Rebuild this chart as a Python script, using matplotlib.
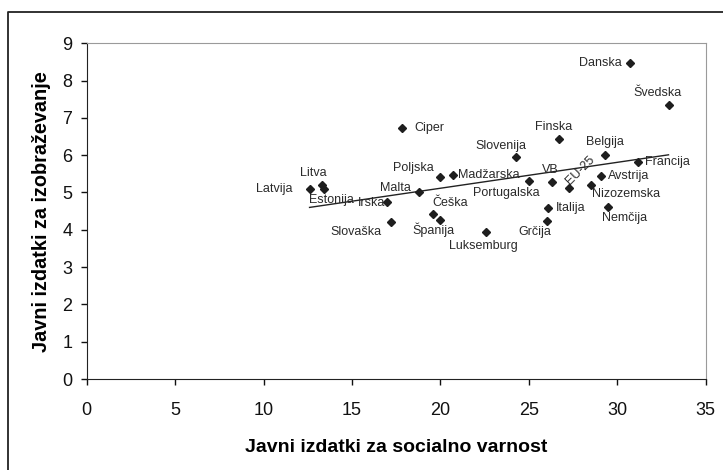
import matplotlib.pyplot as plt
from matplotlib.lines import Line2D

plt.rcParams['font.family'] = ['Liberation Sans', 'DejaVu Sans']

## Data
countries = ['Danska', 'Švedska', 'Ciper', 'Finska', 'Slovenija', 'Belgija',
             'Francija', 'Avstrija', 'Nizozemska', 'EU-25', 'VB', 'Portugalska',
             'Madžarska', 'Poljska', 'Malta', 'Litva', 'Estonija', 'Latvija',
             'Irska', 'Češka', 'Španija', 'Slovaška', 'Luksemburg', 'Italija',
             'Grčija', 'Nemčija']
social = [30.7, 32.9, 17.8, 26.7, 24.3, 29.3,
          31.2, 29.1, 28.5, 27.3, 26.3, 25.0,
          20.7, 20.0, 18.8, 13.3, 13.4, 12.6,
          17.0, 19.6, 20.0, 17.2, 22.6, 26.1,
          26.0, 29.5]
education = [8.46, 7.34, 6.72, 6.44, 5.96, 6.00,
             5.81, 5.45, 5.21, 5.13, 5.29, 5.31,
             5.46, 5.41, 5.00, 5.20, 5.10, 5.10,
             4.75, 4.42, 4.26, 4.20, 3.95, 4.58,
             4.24, 4.60]
trend_x = [12.6, 32.9]
trend_y = [4.60, 6.01]

# label placement: (dx px, dy px, ha, rotation)
label_pos = {
    'Danska': (-8, 0, 'right', 0), 'Švedska': (-11, 12, 'center', 0),
    'Ciper': (13, 0, 'left', 0), 'Finska': (-5, 12, 'center', 0),
    'Slovenija': (-16, 11, 'center', 0), 'Belgija': (0, 13, 'center', 0),
    'Francija': (7, 0, 'left', 0), 'Avstrija': (7, 0, 'left', 0),
    'Nizozemska': (1, -9, 'left', 0), 'EU-25': (11, 17, 'center', 45),
    'VB': (-1, 12, 'center', 0), 'Portugalska': (-23, -12, 'center', 0),
    'Madžarska': (5, 0, 'left', 0), 'Poljska': (-7, 9, 'right', 0),
    'Malta': (-8, 4, 'right', 0), 'Litva': (-9, 12, 'center', 0),
    'Estonija': (8, -11, 'center', 0), 'Latvija': (-17, 0, 'right', 0),
    'Irska': (-2, -1, 'right', 0), 'Češka': (17, 11, 'center', 0),
    'Španija': (-7, -10, 'center', 0), 'Slovaška': (-9, -10, 'right', 0),
    'Luksemburg': (-3, -14, 'center', 0), 'Italija': (8, 0, 'left', 0),
    'Grčija': (-12, -11, 'center', 0), 'Nemčija': (16, -11, 'center', 0),
}

fig = plt.figure(figsize=(7.23, 4.70), dpi=100)
ax = fig.add_axes([0.12, 0.1936, 0.856, 0.7143])

ax.plot(trend_x, trend_y, color='#222222', lw=1.0, zorder=2)
ax.plot(social, education, 'D', color='#1e1e1e', markersize=4.3, zorder=3)

for name, x, y in zip(countries, social, education):
    dx, dy, ha, rot = label_pos[name]
    ax.annotate(name, (x, y), xytext=(dx * 0.72, dy * 0.72),
                textcoords='offset points', ha=ha, va='center',
                fontsize=9, color='#2a2a2a', rotation=rot, zorder=4)

ax.set_xlim(0, 35)
ax.set_ylim(0, 9)
ax.set_xticks(range(0, 36, 5))
ax.set_yticks(range(0, 10))
ax.tick_params(direction='out', length=4.3, width=1, labelsize=13,
               colors='#111111')
ax.tick_params(axis='x', pad=12.5)
ax.tick_params(axis='y', pad=6)
for s in ['top', 'right']:
    ax.spines[s].set_color('#9a9a9a')
for s in ['left', 'bottom']:
    ax.spines[s].set_color('#222222')

ax.set_xlabel('Javni izdatki za socialno varnost', fontsize=14,
              fontweight='bold', labelpad=14)
ax.set_ylabel('Javni izdatki za izobraževanje', fontsize=14.3,
              fontweight='bold', labelpad=8)

# outer frame
yt = 1 - 12 / 470
xl = 8 / 723
fig.add_artist(Line2D([xl, xl, 1.0], [0, yt, yt], color='#222222',
                      lw=1.3, transform=fig.transFigure))

fig.savefig('out.png', dpi=100)
